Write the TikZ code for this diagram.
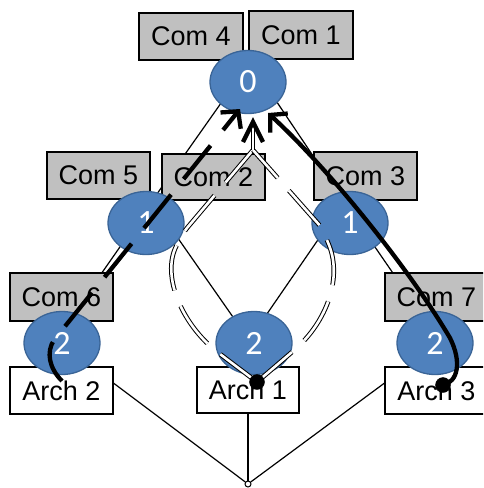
\documentclass[tikz,border=0pt]{standalone}
\usepackage{fontspec}
\setmainfont{Liberation Sans}
\newfontfamily\numfont{Carlito}
\usetikzlibrary{shapes.geometric,arrows.meta}
\definecolor{nodeblue}{HTML}{4F81BD}
\definecolor{nodeedge}{HTML}{3A6496}
\definecolor{boxgray}{HTML}{C0C0C0}
\begin{document}
\begin{tikzpicture}[x=1pt,y=-1pt,
  combox/.style={draw=black, line width=1.3pt, fill=boxgray, minimum width=103pt, minimum height=47pt, inner sep=0pt, font=\fontsize{27}{30}\selectfont},
  archbox/.style={combox, fill=white},
  lat/.style={ellipse, draw=nodeedge, line width=1.3pt, fill=nodeblue, minimum width=76pt, minimum height=63pt, inner sep=0pt, text=white, font=\numfont\fontsize{34}{36}\selectfont},
  latline/.style={line width=1.2pt},
  route/.style={double=white, double distance=2.6pt, line width=1pt, dash pattern=on 46pt off 17pt},
  heavy/.style={line width=4.3pt},
  tip/.style={-{Straight Barb[length=12pt,width=26pt]}},
  blackdot/.style={circle, fill=black, draw=black, inner sep=0pt, minimum size=15pt}
  ]
\useasboundingbox (0,0) rectangle (483,488);
\clip (0,0) rectangle (483,488);
% lattice points
\coordinate (p0) at (250,62);
\coordinate (p1l) at (152,201);
\coordinate (p1r) at (344,202);
\coordinate (p2l) at (55,340);
\coordinate (p2m) at (249,340);
\coordinate (p2r) at (439,340);
\coordinate (m) at (253,150);
\coordinate (m2) at (253,122);
\coordinate (tipl) at (240,109);
\coordinate (tipr) at (268,113);
\coordinate (s1) at (257,382);
\coordinate (s2) at (62,381);
\coordinate (s3) at (443,385);
% thin lattice lines
\draw[latline] (p0) -- (p1l);
\draw[latline] (p0) -- (p1r);
\draw[latline] (p1l) -- (p2l);
\draw[latline] (p1l) -- (p2m);
\draw[latline] (p1r) -- (p2m);
\draw[latline] (p1r) -- (p2r);
% boxes
\node[combox, minimum width=104pt] (c4) at (191,36.5) {Com 4};
\node[combox, minimum width=104pt, minimum height=48pt] (c1) at (301,35) {Com 1};
\node[combox] (c5) at (98.5,175.5) {Com 5};
\node[combox, minimum height=46pt] (c2) at (213.5,177) {Com 2};
\node[combox, minimum height=48pt] (c3) at (365.5,176) {Com 3};
\node[combox, minimum height=48pt] (c6) at (61.5,297) {Com 6};
\node[combox, minimum height=48pt] (c7) at (436.5,297) {Com 7};
\node[archbox] (a2) at (61.5,390.5) {Arch 2};
\node[archbox, minimum width=102pt, minimum height=46pt] (a1) at (248,390) {Arch 1};
\node[archbox] (a3) at (436.5,390.5) {Arch 3};
% bottom point
\node[circle, draw=black, fill=white, line width=1pt, inner sep=0pt, minimum size=6pt] (bot) at (248,484) {};
\draw[latline] (a2.8) -- (bot);
\draw[latline] (a1.south) -- (bot);
\draw[latline] (a3.172) -- (bot);
% ellipses
\node[lat] (n0) at (248,82) {0};
\node[lat] (n1l) at (146,223) {1};
\node[lat] (n1r) at (350,223) {1};
\node[lat] (n2l) at (62,343) {2};
\node[lat] (n2m) at (254,343) {2};
\node[lat] (n2r) at (435,343) {2};
% double routes
\draw[route] (s1) -- (216,351) .. controls (180,322) and (160,272) .. (178,243) .. controls (181,236) .. (187,228) -- (m);
\draw[route] (s1) -- (292,352) .. controls (325,325) and (343,280) .. (329,245) .. controls (326,236) .. (322,228) -- (m);
\draw[route, solid] (m) -- (m2);
\draw[heavy, line join=miter] (243,142) -- (m2) -- (263,142);
% thick arrows
\draw[heavy, dash pattern=on 43pt off 20pt, tip] (s2) .. controls (49,368) and (46,352) .. (54,340) -- (tipl);
\draw[heavy, tip] (s3) .. controls (458,382) and (462,362) .. (450,338) .. controls (410,270) and (330,170) .. (tipr);
% dots
\node[blackdot] (d1) at (s1) {};
\node[blackdot] (d3) at (s3) {};
\end{tikzpicture}
\end{document}
